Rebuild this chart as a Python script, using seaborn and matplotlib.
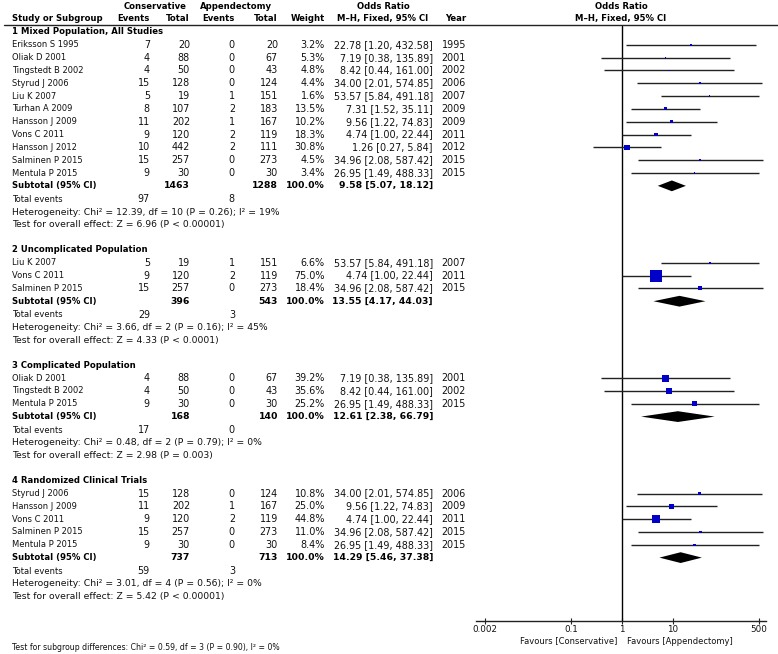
import numpy as np
import pandas as pd
import matplotlib.pyplot as plt
from matplotlib.ticker import NullLocator
import seaborn as sns

sns.set_theme(style='white')
plt.rcParams['font.family'] = ['DejaVu Sans']
plt.rcParams['font.size'] = 6

# ---- data ----
group_names = ['1 Mixed Population, All Studies', '2 Uncomplicated Population',
               '3 Complicated Population', '4 Randomized Clinical Trials']

study = ['Eriksson S 1995', 'Oliak D 2001', 'Tingstedt B 2002', 'Styrud J 2006', 'Liu K 2007',
         'Turhan A 2009', 'Hansson J 2009', 'Vons C 2011', 'Hansson J 2012', 'Salminen P 2015',
         'Mentula P 2015',
         'Liu K 2007', 'Vons C 2011', 'Salminen P 2015',
         'Oliak D 2001', 'Tingstedt B 2002', 'Mentula P 2015',
         'Styrud J 2006', 'Hansson J 2009', 'Vons C 2011', 'Salminen P 2015', 'Mentula P 2015']
group = [1] * 11 + [2] * 3 + [3] * 3 + [4] * 5
cons_events = [7, 4, 4, 15, 5, 8, 11, 9, 10, 15, 9, 5, 9, 15, 4, 4, 9, 15, 11, 9, 15, 9]
cons_total = [20, 88, 50, 128, 19, 107, 202, 120, 442, 257, 30, 19, 120, 257, 88, 50, 30,
              128, 202, 120, 257, 30]
app_events = [0, 0, 0, 0, 1, 2, 1, 2, 2, 0, 0, 1, 2, 0, 0, 0, 0, 0, 1, 2, 0, 0]
app_total = [20, 67, 43, 124, 151, 183, 167, 119, 111, 273, 30, 151, 119, 273, 67, 43, 30,
             124, 167, 119, 273, 30]
weight = [3.2, 5.3, 4.8, 4.4, 1.6, 13.5, 10.2, 18.3, 30.8, 4.5, 3.4, 6.6, 75.0, 18.4,
          39.2, 35.6, 25.2, 10.8, 25.0, 44.8, 11.0, 8.4]
odds = [22.78, 7.19, 8.42, 34.00, 53.57, 7.31, 9.56, 4.74, 1.26, 34.96, 26.95, 53.57, 4.74,
        34.96, 7.19, 8.42, 26.95, 34.00, 9.56, 4.74, 34.96, 26.95]
ci_low = [1.20, 0.38, 0.44, 2.01, 5.84, 1.52, 1.22, 1.00, 0.27, 2.08, 1.49, 5.84, 1.00, 2.08,
          0.38, 0.44, 1.49, 2.01, 1.22, 1.00, 2.08, 1.49]
ci_high = [432.58, 135.89, 161.00, 574.85, 491.18, 35.11, 74.83, 22.44, 5.84, 587.42, 488.33,
           491.18, 22.44, 587.42, 135.89, 161.00, 488.33, 574.85, 74.83, 22.44, 587.42, 488.33]
year = [1995, 2001, 2002, 2006, 2007, 2009, 2009, 2011, 2012, 2015, 2015, 2007, 2011, 2015,
        2001, 2002, 2015, 2006, 2009, 2011, 2015, 2015]

# subgroup pooled results
sub_cons_total = [1463, 396, 168, 737]
sub_app_total = [1288, 543, 140, 713]
sub_odds = [9.58, 13.55, 12.61, 14.29]
sub_low = [5.07, 4.17, 2.38, 5.46]
sub_high = [18.12, 44.03, 66.79, 37.38]
sub_cons_events = [97, 29, 17, 59]
sub_app_events = [8, 3, 0, 3]
heterogeneity = ['Chi² = 12.39, df = 10 (P = 0.26); I² = 19%',
                 'Chi² = 3.66, df = 2 (P = 0.16); I² = 45%',
                 'Chi² = 0.48, df = 2 (P = 0.79); I² = 0%',
                 'Chi² = 3.01, df = 4 (P = 0.56); I² = 0%']
overall = ['Z = 6.96 (P < 0.00001)', 'Z = 4.33 (P < 0.0001)',
           'Z = 2.98 (P = 0.003)', 'Z = 5.42 (P < 0.00001)']
subgroup_test = 'Test for subgroup differences: Chi² = 0.59, df = 3 (P = 0.90), I² = 0%'
ticks = [0.002, 0.1, 1, 10, 500]
tick_labels = ['0.002', '0.1', '1', '10', '500']

# ---- layout: rows of the table ----
df = pd.DataFrame({'study': study, 'group': group, 'cons_events': cons_events,
                   'cons_total': cons_total, 'app_events': app_events, 'app_total': app_total,
                   'weight': weight, 'odds': odds, 'ci_low': ci_low, 'ci_high': ci_high,
                   'year': year})
rows, header_rows, sub_rows = [], [], []
r = 0
for g in range(1, 5):
    n = group.count(g)
    header_rows.append(r)
    rows += list(range(r + 1, r + 1 + n))
    sub_rows.append(r + n + 1)
    r += n + 6
df['row'] = rows

W, H = 778, 654
ROW0, ROW_H = 32, 12.82


def row_of(px):
    return (px - ROW0) / ROW_H


fig = plt.figure(figsize=(W / 100, H / 100), dpi=100)

# text layer, x in pixels, y in rows
tx = fig.add_axes([0, 0, 1, 1])
tx.set_xlim(0, W)
tx.set_ylim(row_of(H), row_of(0))
tx.axis('off')

X_NAME, X_CE, X_CT, X_AE, X_AT, X_W, X_OR, X_YR = 12, 150, 190, 235, 278, 325, 433, 466
INK = '#111111'
txt = dict(va='center', color=INK, fontsize=6.0)
num = dict(va='center', color=INK, fontsize=6.9)
note = dict(va='center', color=INK, fontsize=6.7)
bold = dict(va='center', color='black', fontsize=6.1, fontweight='bold')
bnum = dict(va='center', color='black', fontsize=6.7, fontweight='bold')

tx.text(155, row_of(6.5), 'Conservative', ha='center', **bold)
tx.text(236, row_of(6.5), 'Appendectomy', ha='center', **bold)
tx.text(383, row_of(6.5), 'Odds Ratio', ha='center', **bold)
tx.text(621, row_of(6.5), 'Odds Ratio', ha='center', **bold)
y2 = row_of(18.5)
tx.text(X_NAME, y2, 'Study or Subgroup', ha='left', **bold)
tx.text(X_CE, y2, 'Events', ha='right', **bold)
tx.text(X_CT, y2, 'Total', ha='right', **bold)
tx.text(X_AE, y2, 'Events', ha='right', **bold)
tx.text(X_AT, y2, 'Total', ha='right', **bold)
tx.text(X_W, y2, 'Weight', ha='right', **bold)
tx.text(383, y2, 'M\u2013H, Fixed, 95% CI', ha='center', **bold)
tx.text(X_YR, y2, 'Year', ha='right', **bold)
tx.text(621, y2, 'M\u2013H, Fixed, 95% CI', ha='center', **bold)
tx.plot([4, W], [row_of(25)] * 2, color='#222222', lw=1.0)

for _, s in df.iterrows():
    y = s['row']
    tx.text(X_NAME, y, s['study'], ha='left', **txt)
    tx.text(X_CE, y, str(s['cons_events']), ha='right', **num)
    tx.text(X_CT, y, str(s['cons_total']), ha='right', **num)
    tx.text(X_AE, y, str(s['app_events']), ha='right', **num)
    tx.text(X_AT, y, str(s['app_total']), ha='right', **num)
    tx.text(X_W, y, f"{s['weight']:.1f}%", ha='right', **num)
    tx.text(X_OR, y, f"{s['odds']:.2f} [{s['ci_low']:.2f}, {s['ci_high']:.2f}]", ha='right', **num)
    tx.text(X_YR, y, str(s['year']), ha='right', **num)

for i in range(4):
    tx.text(X_NAME, header_rows[i], group_names[i], ha='left', **bold)
    y = sub_rows[i]
    tx.text(X_NAME, y, 'Subtotal (95% CI)', ha='left', **bold)
    tx.text(X_CT, y, str(sub_cons_total[i]), ha='right', **bnum)
    tx.text(X_AT, y, str(sub_app_total[i]), ha='right', **bnum)
    tx.text(X_W, y, '100.0%', ha='right', **bnum)
    tx.text(X_OR, y, f'{sub_odds[i]:.2f} [{sub_low[i]:.2f}, {sub_high[i]:.2f}]', ha='right', **bnum)
    tx.text(X_NAME, y + 1.05, 'Total events', ha='left', **txt)
    tx.text(X_CE, y + 1.05, str(sub_cons_events[i]), ha='right', **num)
    tx.text(X_AE, y + 1.05, str(sub_app_events[i]), ha='right', **num)
    tx.text(X_NAME, y + 2.05, 'Heterogeneity: ' + heterogeneity[i], ha='left', **note)
    tx.text(X_NAME, y + 3.05, 'Test for overall effect: ' + overall[i], ha='left', **note)

tx.text(617, row_of(641), 'Favours [Conservative]', ha='right', **txt)
tx.text(627, row_of(641), 'Favours [Appendectomy]', ha='left', **txt)
tx.text(X_NAME, row_of(648), subgroup_test, ha='left', va='center', color=INK, fontsize=5.6)

# ---- forest panel ----
ax = fig.add_axes([476 / W, 1 - 621 / H, (766 - 476) / W, (621 - 26) / H])
ax.patch.set_alpha(0)
ax.set_xscale('log')
ax.set_xlim(0.00133, 686)
ax.set_ylim(row_of(621), row_of(26))

# square side grows with the study weight (in pixels -> points^2 for scatter)
square_area = {w: ((1.2 + 0.145 * w) * 0.72) ** 2 for w in sorted(set(weight))}

ax.hlines(df['row'], df['ci_low'], df['ci_high'], color='#222222', lw=1.0, zorder=2)
sns.scatterplot(data=df, x='odds', y='row', size='weight', sizes=square_area,
                marker='s', color='#0000c8', linewidth=0,
                legend=False, ax=ax, zorder=3)
for i in range(4):
    y = sub_rows[i]
    ax.fill([sub_low[i], sub_odds[i], sub_high[i], sub_odds[i]],
            [y, y - 0.42, y, y + 0.42], color='black', lw=0, zorder=3)
ax.axvline(1, color='black', lw=1.0, zorder=1)

for side in ['top', 'right', 'left']:
    ax.spines[side].set_visible(False)
ax.spines['bottom'].set_color('#222222')
ax.spines['bottom'].set_linewidth(1.0)
ax.set_yticks([])
ax.set_xticks(ticks, tick_labels)
ax.xaxis.set_minor_locator(NullLocator())
ax.tick_params(axis='x', direction='inout', length=5, width=0.8, pad=0.5,
               labelsize=6.3, colors='#222222', labelcolor=INK, bottom=True)
ax.set_xlabel('')
ax.set_ylabel('')

fig.savefig('out.png', dpi=100)
